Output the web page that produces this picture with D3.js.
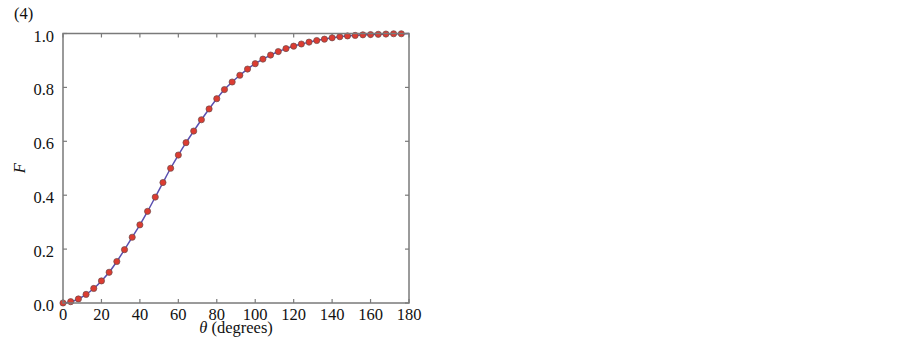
<!DOCTYPE html>
<html>
<head>
<meta charset="utf-8">
<script src="https://cdn.jsdelivr.net/npm/d3@7"></script>
<style>
  body { margin: 0; background: #fff; }
  text { font-family: "Liberation Serif", "Times New Roman", serif; fill: #111; }
</style>
</head>
<body>
<div id="viz"></div>
<script>
// measured points, theta step 4 deg
var theta = [0, 4, 8, 12, 16, 20, 24, 28, 32, 36, 40, 44, 48, 52, 56, 60, 64, 68, 72, 76, 80, 84, 88,
  92, 96, 100, 104, 108, 112, 116, 120, 124, 128, 132, 136, 140, 144, 148, 152, 156, 160, 164, 168, 172, 176];
var F = [0, 0.005, 0.015, 0.032, 0.054, 0.082, 0.114, 0.154, 0.198, 0.244, 0.290, 0.340, 0.393, 0.447, 0.500,
  0.549, 0.595, 0.638, 0.680, 0.720, 0.758, 0.792, 0.820, 0.845, 0.868, 0.888, 0.905, 0.920, 0.933, 0.944,
  0.953, 0.961, 0.968, 0.974, 0.979, 0.984, 0.988, 0.991, 0.993, 0.995, 0.996, 0.997, 0.998, 0.999, 0.999];
// fitted curve end point
var lineEndTheta = 180;
var lineEndF = 1.0;
var xTicks = [0, 20, 40, 60, 80, 100, 120, 140, 160, 180];
var yTicks = [0, 0.2, 0.4, 0.6, 0.8, 1.0];

var width = 902, height = 337;
var pl = 63, pr = 409, pt = 33.5, pb = 303;

var svg = d3.select("#viz").append("svg")
  .attr("width", width).attr("height", height);

var x = d3.scaleLinear().domain([0, 180]).range([pl, pr]);
var y = d3.scaleLinear().domain([0, 1]).range([pb, pt]);

var axisColor = "#7a7a7a";
var tl = 4;

// ticks (inward, all four sides)
var g = svg.append("g").attr("stroke", axisColor).attr("stroke-width", 1.2);
xTicks.forEach(function (t) {
  g.append("line").attr("x1", x(t)).attr("x2", x(t)).attr("y1", pb).attr("y2", pb - tl);
  g.append("line").attr("x1", x(t)).attr("x2", x(t)).attr("y1", pt).attr("y2", pt + tl);
});
yTicks.forEach(function (t) {
  g.append("line").attr("x1", pl).attr("x2", pl + tl).attr("y1", y(t)).attr("y2", y(t));
  g.append("line").attr("x1", pr).attr("x2", pr - tl).attr("y1", y(t)).attr("y2", y(t));
});

// curve
var lineData = theta.map(function (t, i) { return [t, F[i]]; });
lineData.push([lineEndTheta, lineEndF]);
svg.append("path")
  .datum(lineData)
  .attr("fill", "none")
  .attr("stroke", "#5a4fb0")
  .attr("stroke-width", 1.5)
  .attr("d", d3.line().x(function (d) { return x(d[0]); }).y(function (d) { return y(d[1]); })
    .curve(d3.curveMonotoneX));

// points
svg.append("g").selectAll("circle")
  .data(theta)
  .enter().append("circle")
  .attr("cx", function (d) { return x(d); })
  .attr("cy", function (d, i) { return y(F[i]); })
  .attr("r", 3.1)
  .attr("fill", "#dc3c32")
  .attr("stroke", "#6a4a4a")
  .attr("stroke-width", 0.7);

// frame
svg.append("rect")
  .attr("x", pl).attr("y", pt)
  .attr("width", pr - pl).attr("height", pb - pt)
  .attr("fill", "none").attr("stroke", axisColor).attr("stroke-width", 1.5);

// tick labels
svg.append("g").selectAll("text").data(xTicks).enter().append("text")
  .attr("x", function (d) { return x(d); })
  .attr("y", pb + 17)
  .attr("text-anchor", "middle")
  .attr("font-size", 16.5)
  .text(function (d) { return d; });

svg.append("g").selectAll("text").data(yTicks).enter().append("text")
  .attr("x", pl - 9)
  .attr("y", function (d) { return y(d) + 8; })
  .attr("text-anchor", "end")
  .attr("font-size", 16.5)
  .text(function (d) { return d3.format(".1f")(d); });

// axis titles
var xt = svg.append("text")
  .attr("x", 236).attr("y", 333)
  .attr("text-anchor", "middle")
  .attr("font-size", 16.5);
xt.append("tspan").attr("font-style", "italic").text("θ");
xt.append("tspan").text(" (degrees)");

svg.append("text")
  .attr("transform", "translate(25," + ((pt + pb) / 2) + ") rotate(-90)")
  .attr("text-anchor", "middle")
  .attr("font-size", 16.5)
  .attr("font-style", "italic")
  .text("F");

svg.append("text")
  .attr("x", 14).attr("y", 19)
  .attr("font-size", 16.5)
  .text("(4)");
</script>
</body>
</html>
